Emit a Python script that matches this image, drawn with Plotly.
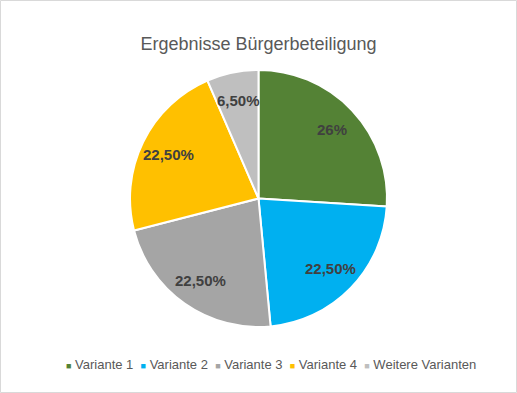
import math
import plotly.graph_objects as go

labels = ["Variante 1", "Variante 2", "Variante 3", "Variante 4", "Weitere Varianten"]
values = [26, 22.5, 22.5, 22.5, 6.5]
text_labels = ["26%", "22,50%", "22,50%", "22,50%", "6,50%"]
colors = ["#548235", "#00B0F0", "#A5A5A5", "#FFC000", "#BFBFBF"]

W, H = 517, 393
# pie geometry (paper px)
cx, cy, R = 258.5, 198.5, 128.5
FONT = "Liberation Sans, Arial, sans-serif"

fig = go.Figure(go.Pie(
    labels=labels, values=values, text=text_labels,
    textinfo="none",
    marker=dict(colors=colors, line=dict(color="white", width=2)),
    sort=False, direction="clockwise", rotation=0,
    domain=dict(x=[(cx - R) / W, (cx + R) / W], y=[(H - cy - R) / H, (H - cy + R) / H]),
    hoverinfo="label+value",
    showlegend=False,
))

# data labels along each slice's mid-angle
annotations = []
total = sum(values)
cum = 0.0
for v, t in zip(values, text_labels):
    mid = (cum + v / 2) / total * 2 * math.pi
    cum += v
    x = cx + 0.78 * R * math.sin(mid)
    y = cy - 0.78 * R * math.cos(mid)
    annotations.append(dict(x=x / W, y=1 - y / H, xref="paper", yref="paper", text=t,
                            showarrow=False, xanchor="center", yanchor="middle",
                            font=dict(family=FONT, size=15, color="#404040", weight="bold")))

# legend row
nb = "\u00a0"
parts = []
for lab, col in zip(labels, colors):
    parts.append(f"<span style='color:{col};font-size:9px'>■</span>{nb}{lab}")
legend_text = (nb * 2).join(parts)
annotations.append(dict(x=64 / W, y=1 - 364 / H, xref="paper", yref="paper", text=legend_text,
                        showarrow=False, xanchor="left", yanchor="middle",
                        font=dict(family=FONT, size=13, color="#595959")))

fig.update_layout(
    width=W, height=H,
    margin=dict(l=0, r=0, t=0, b=0),
    paper_bgcolor="white", plot_bgcolor="white",
    title=dict(text="Ergebnisse Bürgerbeteiligung", x=0.5, xanchor="center",
               y=1 - 44 / H, yanchor="middle",
               font=dict(family=FONT, size=18, color="#595959")),
    showlegend=False,
    annotations=annotations,
    shapes=[dict(type="rect", xref="paper", yref="paper", x0=0.5 / W, x1=1 - 0.5 / W,
                 y0=0.5 / H, y1=1 - 0.5 / H, line=dict(color="#D9D9D9", width=1))],
)
fig.write_html("out.html", config={"displayModeBar": False},
               post_script="document.body.style.margin='0';document.body.style.overflow='hidden';")
